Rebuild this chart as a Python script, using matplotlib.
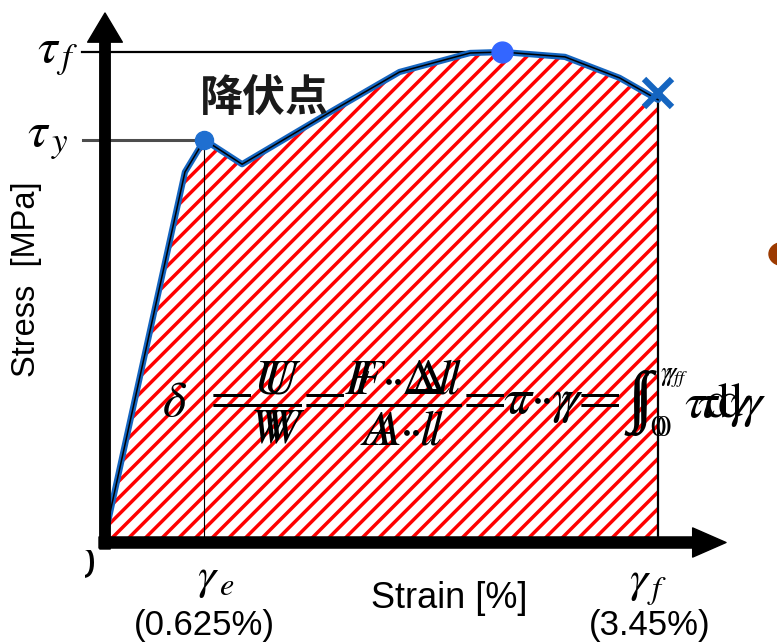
import matplotlib
matplotlib.use("Agg")
import matplotlib.pyplot as plt
from matplotlib.patches import Circle, Rectangle

# stress-strain curve (strain in %, stress normalised so that tau_f = 100)
strain = [0.0, 0.504, 0.625, 0.86, 1.43, 1.84, 2.28, 2.48, 2.87, 3.21, 3.45]
stress = [0.0, 75.4, 82.0, 77.0, 88.1, 95.9, 99.8, 100.0, 99.0, 94.7, 90.2]

gamma_e = 0.625   # elastic limit strain [%]
gamma_f = 3.45    # fracture strain [%]
tau_y = 82.0      # yield stress
tau_f = 100.0     # ultimate stress
peak_strain = 2.48

gamma_e_label = "(0.625%)"
gamma_f_label = "(3.45%)"
yield_label = "降伏点"
x_label = "Strain [%]"
y_label = "Stress  [MPa]"

W, H = 777, 644
# pixel scale of the diagram: origin at (104, 540)
ox, oy = 104, 540
sx, sy = 160.6, 4.88

plt.rcParams["mathtext.fontset"] = "stix"
plt.rcParams["hatch.linewidth"] = 2.5

fig = plt.figure(figsize=(W / 100, H / 100), dpi=100)
ax = fig.add_axes([0, 0, 1, 1])
ax.set_xlim(-ox / sx, (W - ox) / sx)
ax.set_ylim((oy - H) / sy, oy / sy)
ax.axis("off")


def fp(x, y):
    # figure fraction from pixel position (top-left origin)
    return x / W, 1 - y / H


def to_data(x, y):
    return (x - ox) / sx, (oy - y) / sy


ax.fill_between(strain, stress, 0, facecolor="white", edgecolor="red",
                hatch="//", linewidth=0, zorder=1)

# guide lines
ax.plot([to_data(82, 0)[0], peak_strain], [tau_f, tau_f], color="black", lw=1.6, zorder=2)
ax.plot([to_data(83, 0)[0], gamma_e], [tau_y, tau_y], color="#4d4d4d", lw=2.2, zorder=2)
ax.plot([gamma_e, gamma_e], [0, tau_y], color="black", lw=0.8, zorder=2)
ax.plot([gamma_f, gamma_f], [0, stress[-1]], color="black", lw=1.6, zorder=2)

# curve
ax.plot(strain, stress, color="#1565c0", lw=4.5, solid_capstyle="round",
        solid_joinstyle="round", zorder=3)
ax.plot(strain, stress, color="black", lw=1.1, zorder=4)
ax.plot([gamma_e], [tau_y], "o", color="#1f6fd0", ms=13, zorder=5)
ax.plot([peak_strain], [tau_f], "o", color="#3366ff", ms=15, zorder=5)
ax.plot([gamma_f], [stress[-1] + 1.4], "x", color="#1565c0", ms=20, mew=4.5, zorder=5)

# axes arrows
style_y = "simple,head_length=21,head_width=25,tail_width=7.5"
ax.annotate("", xy=to_data(105, 13), xytext=to_data(105, 549),
            arrowprops=dict(arrowstyle=style_y, color="black", mutation_scale=1,
                            shrinkA=0, shrinkB=0), zorder=6)
style_x = "simple,head_length=24,head_width=21,tail_width=8"
ax.annotate("", xy=to_data(726, 542.5), xytext=to_data(99, 542.5),
            arrowprops=dict(arrowstyle=style_x, color="black", mutation_scale=1,
                            shrinkA=0, shrinkB=0), zorder=6)

# labels
tf = fig.transFigure
sans = "Liberation Sans"
serif = ["Liberation Serif", "DejaVu Serif"]
fig.text(*fp(58, 54), r"$\tau_{\,f}$", fontsize=36, ha="center", va="center", transform=tf)
fig.text(*fp(48, 138), r"$\tau_{\,y}$", fontsize=36, ha="center", va="center", transform=tf)
fig.text(*fp(216, 578), r"$\gamma_{\,e}$", fontsize=33, ha="center", va="center", transform=tf)
fig.text(*fp(648, 585), r"$\gamma_{\,f}$", fontsize=33, ha="center", va="center", transform=tf)
fig.text(*fp(204, 625), gamma_e_label, fontsize=25, family=sans,
         ha="center", va="center", transform=tf)
fig.text(*fp(650, 625), gamma_f_label, fontsize=25, family=sans,
         ha="center", va="center", transform=tf)
fig.text(*fp(449, 598), x_label, fontsize=26, family=sans,
         ha="center", va="center", transform=tf)
fig.text(*fp(27, 279), y_label, fontsize=23.5, family=sans,
         rotation=90, ha="center", va="center", transform=tf)
fig.text(*fp(264, 98), yield_label, fontsize=31, family="Noto Sans CJK JP",
         fontweight="bold", color="#1a1a1a", ha="center", va="center", transform=tf)

# formula, printed twice with a small shift
fig.text(*fp(175, 402), r"$\delta$", fontsize=36, ha="center", va="center", transform=tf)
eq = r"$=\dfrac{U}{W}=\dfrac{F\cdot\Delta l}{A\cdot l}=\tau\cdot\gamma=$"
for dx in (0, 9):
    fig.text(*fp(203 + dx, 403), eq, fontsize=35, ha="left", va="center",
             transform=tf, zorder=7)
    fig.text(*fp(627 + dx * 0.8, 403), "\u222b", fontsize=48, family=serif,
             ha="left", va="center", transform=tf, zorder=7)
    fig.text(*fp(660 + dx * 0.6, 377), r"$\gamma_{\,f}$", fontsize=19, ha="left",
             va="center", transform=tf, zorder=7)
    fig.text(*fp(650 + dx * 0.6, 428), r"$0$", fontsize=22, ha="left",
             va="center", transform=tf, zorder=7)
    fig.text(*fp(684 + dx * 1.4, 405), r"$\tau\mathrm{d}\gamma$", fontsize=36,
             ha="left", va="center", transform=tf, zorder=7)

# clipped zero at the origin and bullet at the right edge
zero = fig.text(*fp(83, 566), "0", fontsize=32, family=sans,
                ha="center", va="center", transform=tf)
zero.set_clip_path(Rectangle(fp(85, 600), 20 / W, 50 / H, transform=tf))
fig.patches.append(Circle(fp(783, 254), 14 / W, transform=tf,
                          color="#9c3a00", clip_on=False))

fig.savefig("out.png", dpi=100)
